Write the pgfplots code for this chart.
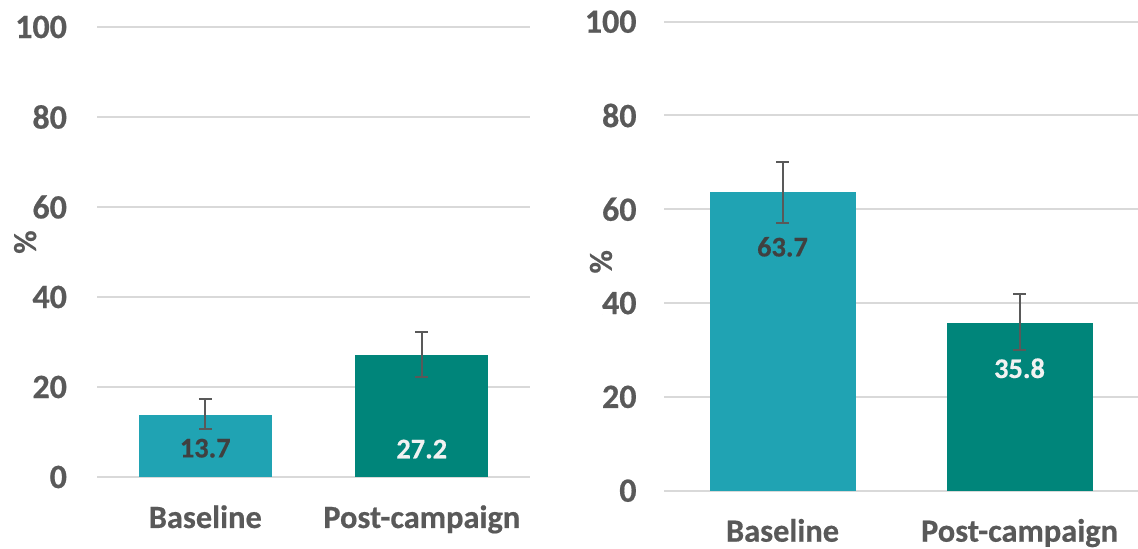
\documentclass[border=0pt]{standalone}
\usepackage{pgfplots}
\pgfplotsset{compat=1.18}
\usepackage{fontspec}
\setmainfont{Carlito}[BoldFeatures={FakeBold=0.5}]
\definecolor{tealA}{HTML}{20A3B3}
\definecolor{tealB}{HTML}{00857A}
\definecolor{txt}{HTML}{595959}
\definecolor{gridc}{HTML}{D9D9D9}
\definecolor{errc}{HTML}{595959}
\definecolor{darklab}{HTML}{404040}
\definecolor{lightlab}{HTML}{F2F2F2}
\pgfplotsset{
  panel/.style={
    scale only axis, anchor=south west,
    ymin=0, ymax=100, ytick={0,20,...,100},
    xmin=-0.5, xmax=1.5,
    xtick={0,1}, xticklabels={Baseline,Post-campaign},
    axis line style={draw=none}, major tick length=0pt,
    ymajorgrids, grid style={gridc, line width=1pt},
    /pgf/number format/assume math mode=true,
    yticklabel style={font=\fontsize{17}{17}\selectfont\bfseries, text=txt, anchor=east, xshift=#1},
    xticklabel style={font=\fontsize{16.2}{16.2}\selectfont\bfseries, text=txt, anchor=base, yshift=-25.5pt},
    ylabel={\%},
    ylabel style={font=\fontsize{16}{16}\selectfont\bfseries, text=txt, anchor=center},
    ybar, bar shift=0pt,
    clip=false,
  },
  errs/.style={
    error bars/.cd, y dir=both, y explicit,
    error bar style={line width=1pt, color=errc},
    error mark options={rotate=90, mark size=3.2pt, line width=1pt, color=errc},
  },
}
\begin{document}
\begin{tikzpicture}
\useasboundingbox (0,0) rectangle (569pt,274.5pt);
% left panel
\begin{axis}[panel=-11.5pt, at={(48.5pt,36pt)}, width=216.5pt, height=225pt,
  bar width=66.5pt,
  ylabel style={at={(axis description cs:-0.166,0.522)}}]
\addplot[fill=tealA, draw=none, errs] coordinates {(0,13.7) += (0,3.6) -= (0,3.0)};
\addplot[fill=tealB, draw=none, errs] coordinates {(1,27.2) += (0,5.0) -= (0,5.0)};
\node[font=\fontsize{14.2}{14.2}\selectfont\bfseries, text=darklab] at (axis cs:0,6.4) {13.7};
\node[font=\fontsize{14.2}{14.2}\selectfont\bfseries, text=lightlab] at (axis cs:1,6.2) {27.2};
\end{axis}
% right panel
\begin{axis}[panel=-10.2pt, at={(332pt,29.15pt)}, width=237pt, height=234.5pt,
  bar width=73pt,
  ylabel style={at={(axis description cs:-0.133,0.488)}}]
\addplot[fill=tealA, draw=none, errs] coordinates {(0,63.7) += (0,6.3) -= (0,6.7)};
\addplot[fill=tealB, draw=none, errs] coordinates {(1,35.8) += (0,6.1) -= (0,5.8)};
\node[font=\fontsize{14.2}{14.2}\selectfont\bfseries, text=darklab] at (axis cs:0,52.0) {63.7};
\node[font=\fontsize{14.2}{14.2}\selectfont\bfseries, text=lightlab] at (axis cs:1,26.1) {35.8};
\end{axis}
\end{tikzpicture}
\end{document}
